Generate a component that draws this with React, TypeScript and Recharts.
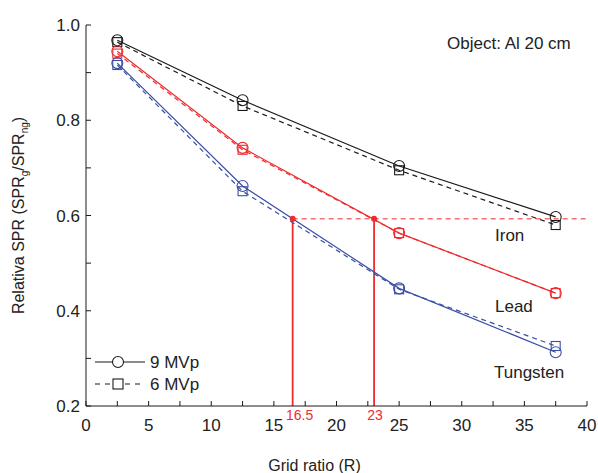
import {
  LineChart,
  Line,
  XAxis,
  YAxis,
  ReferenceLine,
  ReferenceDot,
  Label,
} from "recharts";

const gridRatio = [2.5, 12.5, 25, 37.5];
const iron9 = [0.968, 0.842, 0.704, 0.597];
const iron6 = [0.964, 0.83, 0.695, 0.58];
const lead9 = [0.945, 0.742, 0.563, 0.437];
const lead6 = [0.94, 0.738, 0.563, 0.437];
const tung9 = [0.92, 0.662, 0.447, 0.313];
const tung6 = [0.916, 0.651, 0.445, 0.326];

const xTicks = [0, 2.5, 5, 7.5, 10, 12.5, 15, 17.5, 20, 22.5, 25, 27.5, 30, 32.5, 35, 37.5, 40];
const yTicks = [0.2, 0.3, 0.4, 0.5, 0.6, 0.7, 0.8, 0.9, 1.0];

const targetSpr = 0.593;
const tungCross = 16.5;
const leadCross = 23;

const BLACK = "#1a1a1a";
const RED = "#ee2b2e";
const BLUE = "#3a4fa6";
const FONT = "'Liberation Sans', Arial, sans-serif";

const data = gridRatio.map((r, i) => ({
  r,
  iron9: iron9[i],
  iron6: iron6[i],
  lead9: lead9[i],
  lead6: lead6[i],
  tung9: tung9[i],
  tung6: tung6[i],
}));

const circleDot = (color: string) => ({ r: 5.5, fill: "none", stroke: color, strokeWidth: 1.1 });

const squareDot = (color: string) => (props: any) => {
  const { cx, cy, key } = props;
  return (
    <rect key={key} x={cx - 4.5} y={cy - 4.5} width={9} height={9} fill="none" stroke={color} strokeWidth={1.1} />
  );
};

function XTick({ x, y, payload }: any) {
  const v = payload.value;
  const major = v % 5 === 0;
  return (
    <g>
      <line x1={x} x2={x} y1={y} y2={y - 5} stroke={BLACK} strokeWidth={1} />
      {major && (
        <text x={x} y={y + 25} textAnchor="middle" fontSize={17} fill="#222" fontFamily={FONT}>
          {v}
        </text>
      )}
    </g>
  );
}

function YTick({ x, y, payload }: any) {
  const v = payload.value;
  const major = Math.round(v * 10) % 2 === 0;
  return (
    <g>
      <line x1={x} x2={x + 5} y1={y} y2={y} stroke={BLACK} strokeWidth={1} />
      {major && (
        <text x={x - 6} y={y + 6} textAnchor="end" fontSize={17} fill="#222" fontFamily={FONT}>
          {v.toFixed(1)}
        </text>
      )}
    </g>
  );
}

function YTitle({ viewBox }: any) {
  const cx = viewBox.x + 24;
  const cy = viewBox.y + viewBox.height / 2;
  return (
    <text
      x={cx}
      y={cy}
      transform={`rotate(-90 ${cx} ${cy})`}
      textAnchor="middle"
      fontSize={16}
      fill="#222"
      fontFamily={FONT}
    >
      Relativa SPR (SPR
      <tspan fontSize={10} dy={4}>g</tspan>
      <tspan dy={-4}>/SPR</tspan>
      <tspan fontSize={10} dy={4}>ng</tspan>
      <tspan dy={-4}>)</tspan>
    </text>
  );
}

function CrossLabel({ viewBox, text, dx = 0 }: any) {
  return (
    <text x={viewBox.x + dx} y={viewBox.y + viewBox.height + 14} textAnchor="middle" fontSize={14} fill={RED} fontFamily={FONT}>
      {text}
    </text>
  );
}

const textStyle: React.CSSProperties = {
  position: "absolute",
  fontFamily: FONT,
  fontSize: 17,
  color: "#222",
  whiteSpace: "nowrap",
  lineHeight: 1,
};

export default function App() {
  return (
    <div style={{ position: "absolute", left: 0, top: 0, width: 598, height: 473, background: "#fff" }}>
      <LineChart width={598} height={473} data={data} margin={{ top: 25, right: 11, left: 0, bottom: 0 }}>
        <XAxis
          dataKey="r"
          type="number"
          domain={[0, 40]}
          ticks={xTicks}
          tick={<XTick />}
          tickLine={false}
          tickSize={0}
          tickMargin={0}
          interval={0}
          height={67}
          stroke={BLACK}
          allowDataOverflow
        >
          <Label value="Grid ratio (R)" position="insideBottom" offset={2} dx={-22} fontSize={16} fill="#222" fontFamily={FONT} />
        </XAxis>
        <YAxis
          type="number"
          domain={[0.2, 1.0]}
          ticks={yTicks}
          tick={<YTick />}
          tickLine={false}
          tickSize={0}
          tickMargin={0}
          interval={0}
          width={86}
          stroke={BLACK}
          allowDataOverflow
        >
          <Label content={<YTitle />} />
        </YAxis>

        <ReferenceLine
          segment={[{ x: tungCross, y: targetSpr }, { x: 40, y: targetSpr }]}
          stroke={RED}
          strokeDasharray="5 4"
          strokeWidth={1}
        />
        <ReferenceLine
          segment={[{ x: tungCross, y: targetSpr }, { x: tungCross, y: 0.2 }]}
          stroke={RED}
          strokeWidth={1.8}
        />
        <ReferenceLine
          segment={[{ x: leadCross, y: targetSpr }, { x: leadCross, y: 0.2 }]}
          stroke={RED}
          strokeWidth={1.8}
        />

        <Line type="linear" dataKey="iron6" stroke={BLACK} strokeWidth={1.2} strokeDasharray="5 4" dot={squareDot(BLACK)} isAnimationActive={false} />
        <Line type="linear" dataKey="iron9" stroke={BLACK} strokeWidth={1.2} dot={circleDot(BLACK)} isAnimationActive={false} />
        <Line type="linear" dataKey="lead6" stroke={RED} strokeWidth={1.2} strokeDasharray="5 4" dot={squareDot(RED)} isAnimationActive={false} />
        <Line type="linear" dataKey="lead9" stroke={RED} strokeWidth={1.2} dot={circleDot(RED)} isAnimationActive={false} />
        <Line type="linear" dataKey="tung6" stroke={BLUE} strokeWidth={1.2} strokeDasharray="5 4" dot={squareDot(BLUE)} isAnimationActive={false} />
        <Line type="linear" dataKey="tung9" stroke={BLUE} strokeWidth={1.2} dot={circleDot(BLUE)} isAnimationActive={false} />

        <ReferenceDot x={tungCross} y={targetSpr} r={3} fill={RED} stroke="none" />
        <ReferenceDot x={leadCross} y={targetSpr} r={3} fill={RED} stroke="none" />
        <ReferenceDot x={tungCross} y={0.2} r={0} label={<CrossLabel text="16.5" dx={7} />} />
        <ReferenceDot x={leadCross} y={0.2} r={0} label={<CrossLabel text="23" dx={1} />} />
      </LineChart>

      <div style={{ ...textStyle, left: 447, top: 35 }}>Object: Al 20 cm</div>
      <div style={{ ...textStyle, left: 495, top: 227 }}>Iron</div>
      <div style={{ ...textStyle, left: 495, top: 298 }}>Lead</div>
      <div style={{ ...textStyle, left: 494, top: 364 }}>Tungsten</div>

      <div style={{ position: "absolute", left: 93, top: 350 }}>
        <svg width={56} height={44} style={{ position: "absolute", left: 0, top: 0 }}>
          <line x1={2} x2={52} y1={12} y2={12} stroke={BLACK} strokeWidth={1.2} />
          <circle cx={25} cy={12} r={5.5} fill="#fff" stroke={BLACK} strokeWidth={1.1} />
          <line x1={2} x2={52} y1={34} y2={34} stroke={BLACK} strokeWidth={1.2} strokeDasharray="5 5" />
          <rect x={20} y={29} width={10} height={10} fill="#fff" stroke={BLACK} strokeWidth={1.1} />
        </svg>
        <div style={{ ...textStyle, left: 57, top: 4 }}>9 MVp</div>
        <div style={{ ...textStyle, left: 57, top: 26 }}>6 MVp</div>
      </div>
    </div>
  );
}
